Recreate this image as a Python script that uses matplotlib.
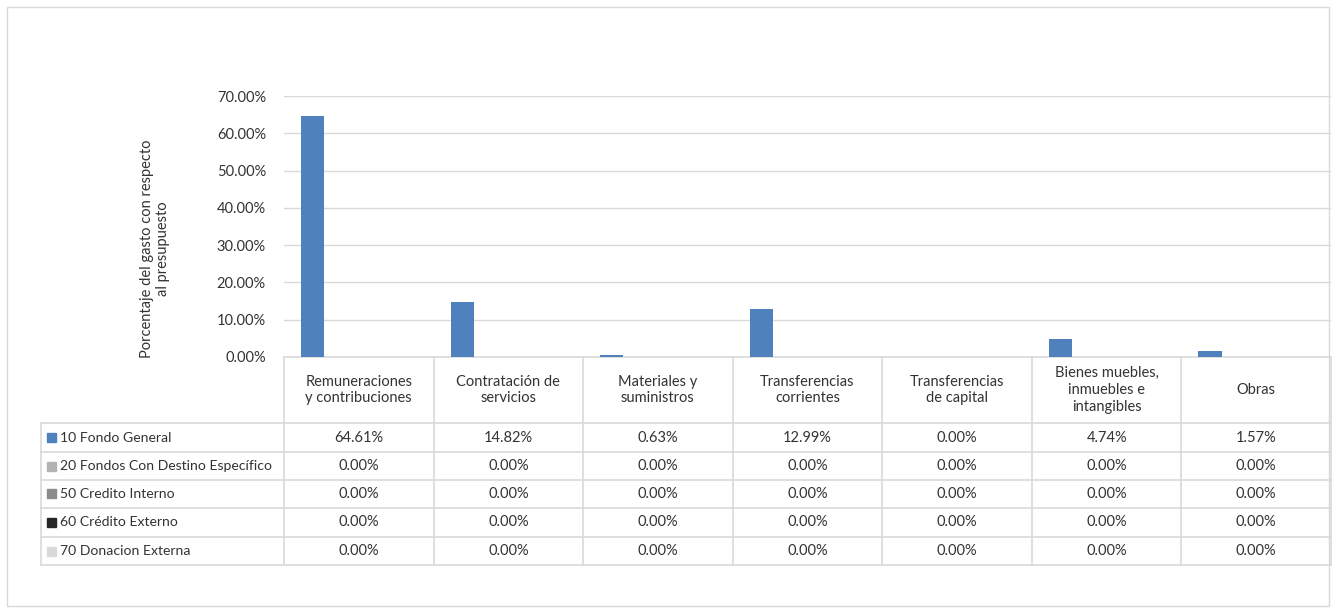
import numpy as np
import matplotlib
matplotlib.use("Agg")
import matplotlib.pyplot as plt
import matplotlib.transforms as mtransforms
from matplotlib.patches import Rectangle
from matplotlib.ticker import FuncFormatter

plt.rcParams['font.family'] = ['Lato', 'DejaVu Sans']

# data
categories = ["Remuneraciones\ny contribuciones", "Contratación de\nservicios",
              "Materiales y\nsuministros", "Transferencias\ncorrientes",
              "Transferencias\nde capital", "Bienes muebles,\ninmuebles e\nintangibles",
              "Obras"]
series_names = ["10 Fondo General", "20 Fondos Con Destino Específico",
                "50 Credito Interno", "60 Crédito Externo", "70 Donacion Externa"]
fondo_general = [64.61, 14.82, 0.63, 12.99, 0.00, 4.74, 1.57]
fondos_destino = [0.00, 0.00, 0.00, 0.00, 0.00, 0.00, 0.00]
credito_interno = [0.00, 0.00, 0.00, 0.00, 0.00, 0.00, 0.00]
credito_externo = [0.00, 0.00, 0.00, 0.00, 0.00, 0.00, 0.00]
donacion_externa = [0.00, 0.00, 0.00, 0.00, 0.00, 0.00, 0.00]
all_series = [fondo_general, fondos_destino, credito_interno, credito_externo, donacion_externa]
colors = ["#4F81BD", "#B3B3B3", "#8C8C8C", "#262626", "#D9D9D9"]

W, H = 1335, 611
FS = 10.5
TXT = "#333333"
fig = plt.figure(figsize=(W / 100, H / 100), dpi=100)

def fy(py):
    return 1 - py / H

ax_left, ax_right, ax_top, ax_bot = 284, 1331, 96, 357
ax = fig.add_axes([ax_left / W, fy(ax_bot), (ax_right - ax_left) / W, (ax_bot - ax_top) / H])

grid_c = "#D9D9D9"
n_cat = len(categories)
n_ser = len(all_series)
bw = 0.1545
x = np.arange(n_cat) + 0.5
for k, (vals, c) in enumerate(zip(all_series, colors)):
    ax.bar(x + (k - (n_ser - 1) / 2) * bw, vals, width=bw, color=c, zorder=3)

ax.set_xlim(0, n_cat)
ax.set_ylim(0, 70)
ax.set_yticks(np.arange(0, 71, 10))
ax.yaxis.set_major_formatter(FuncFormatter(lambda v, p: f"{v:.2f}%"))
ax.tick_params(axis='y', length=0, labelsize=FS, colors=TXT, pad=13)
ax.set_xticks([])
ax.grid(axis='y', color=grid_c, lw=1, zorder=0)
for s in ["top", "right", "left"]:
    ax.spines[s].set_visible(False)
ax.spines["bottom"].set_color(grid_c)
ax.spines["bottom"].set_linewidth(1.2)

fig.text(155 / W, fy(249), "Porcentaje del gasto con respecto\nal presupuesto",
         rotation=90, ha="center", va="center", fontsize=FS, color=TXT,
         linespacing=1.1)

# data table below the plot
tr = mtransforms.blended_transform_factory(ax.transData, fig.transFigure)
row_edges = [357, 423, 452, 480, 508, 537, 565]
left_px = 41
line_kw = dict(color=grid_c, lw=1.2, clip_on=False)
fl = fig.transFigure

# horizontal lines
for py in row_edges[1:]:
    fig.add_artist(plt.Line2D([left_px / W, ax_right / W], [fy(py), fy(py)], transform=fl, **line_kw))
# vertical lines
for j in range(n_cat + 1):
    fig.add_artist(plt.Line2D([j, j], [fy(row_edges[0]), fy(row_edges[-1])], transform=tr, **line_kw))
fig.add_artist(plt.Line2D([left_px / W, left_px / W], [fy(row_edges[1]), fy(row_edges[-1])], transform=fl, **line_kw))

# header text
for j, cat in enumerate(categories):
    fig.text(j + 0.5, fy((row_edges[0] + row_edges[1]) / 2), cat, transform=tr,
             ha="center", va="center", fontsize=FS, color=TXT, linespacing=1.25)

# rows
for i, (name, vals, c) in enumerate(zip(series_names, all_series, colors)):
    yc = fy((row_edges[i + 1] + row_edges[i + 2]) / 2)
    fig.add_artist(Rectangle((47 / W, yc - 4.5 / H), 9 / W, 9 / H, transform=fl, color=c))
    fig.text(60 / W, yc, name, ha="left", va="center", fontsize=10.1, color=TXT)
    for j, v in enumerate(vals):
        fig.text(j + 0.5, yc, f"{v:.2f}%", transform=tr, ha="center", va="center",
                 fontsize=FS, color=TXT)

# outer chart border
fig.add_artist(Rectangle((7 / W, fy(606)), 1322 / W, 599 / H, transform=fl,
                         fill=False, edgecolor=grid_c, lw=1))

fig.savefig("out.png", dpi=100)
